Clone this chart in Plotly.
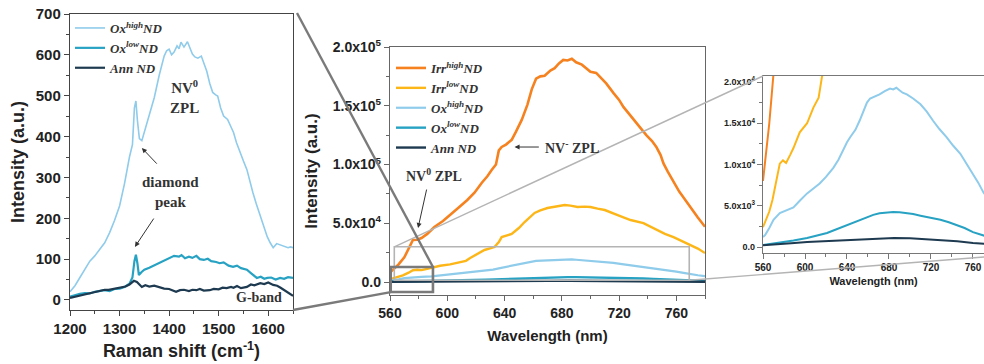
import plotly.graph_objects as go

# ---------------- Raman spectra (left panel) ----------------
raman_ox_high = [1200, 1210, 1220, 1230, 1240, 1250, 1260, 1270, 1280, 1290, 1300, 1310, 1320,
                 1326, 1330, 1333, 1336, 1340, 1345, 1350, 1360, 1370, 1380, 1390,
                 1395, 1400, 1405, 1410, 1416, 1420, 1424, 1430, 1437, 1442, 1447, 1452, 1458, 1465,
                 1470, 1476, 1482, 1488, 1494, 1498, 1504, 1510, 1518, 1524, 1530, 1536, 1543, 1550,
                 1557, 1563, 1569, 1576, 1584, 1590, 1598, 1604, 1610, 1617, 1624, 1632, 1640, 1645, 1650]
int_ox_high = [20, 35, 55, 75, 95, 108, 125, 140, 165, 195, 230, 285, 350,
               380, 470, 487, 440, 395, 390, 410, 450, 495, 550, 597,
               610, 614, 600, 607, 622, 615, 631, 619, 632, 615, 602, 595, 592, 597,
               580, 560, 530, 508, 502, 499, 470, 450, 442, 425, 410, 385, 361, 340,
               319, 290, 263, 235, 204, 180, 155, 140, 128, 138, 135, 133, 128, 130, 128]

raman_ox_low = [1200, 1210, 1220, 1230, 1240, 1250, 1260, 1270, 1280, 1290, 1300, 1310, 1320,
                1326, 1330, 1333, 1336, 1339, 1344, 1350, 1360, 1370, 1380, 1390, 1400, 1410, 1420,
                1425, 1432, 1440, 1447, 1455, 1462, 1470, 1478, 1485, 1495,
                1502, 1510, 1520, 1529, 1537, 1545, 1557, 1565, 1572, 1577,
                1585, 1592, 1598, 1606, 1615, 1624, 1632, 1640, 1650]
int_ox_low = [8, 12, 15, 17, 16, 20, 22, 24, 22, 27, 28, 32, 40,
              55, 95, 111, 90, 61, 68, 74, 79, 85, 90, 96, 103, 108, 106,
              110, 102, 106, 103, 108, 100, 98, 101, 95, 93,
              90, 92, 84, 81, 84, 78, 74, 66, 58, 54,
              57, 52, 54, 55, 50, 54, 52, 56, 54]

raman_ann = [1200, 1210, 1220, 1230, 1243, 1250, 1260, 1270, 1278, 1290, 1300, 1312, 1320, 1329, 1335,
             1340, 1345, 1352, 1360, 1370, 1380, 1390, 1400, 1407, 1414, 1422, 1430, 1440, 1447, 1455,
             1462, 1470, 1482, 1490, 1500, 1508, 1516, 1525, 1530, 1537, 1545, 1557, 1565, 1572, 1584,
             1592, 1600, 1610, 1618, 1625, 1631, 1638, 1645, 1650]
int_ann = [5, 8, 10, 14, 17, 20, 22, 25, 25, 28, 30, 33, 38, 47, 44,
           38, 32, 36, 33, 35, 31, 28, 27, 24, 20, 24, 25, 22, 25, 24,
           27, 23, 24, 27, 26, 30, 29, 32, 30, 34, 29, 32, 38, 36, 41,
           39, 43, 37, 35, 30, 25, 20, 12, 10]

raman_xticks = [1200, 1300, 1400, 1500, 1600]
raman_yticks = [0, 100, 200, 300, 400, 500, 600, 700]

# ---------------- Photoluminescence spectra (middle panel + inset) ----------------
wl_irr_high = [560, 562, 566, 570, 573, 576, 579, 582, 586, 591, 597, 603, 608, 614, 619,
               624, 628, 631, 634, 636, 638, 641, 645, 648, 652, 656, 659, 662, 665, 668,
               672, 675, 678, 681, 684, 687, 690, 694, 697, 700, 704, 707, 711, 716, 720,
               723, 727, 732, 736, 739, 743, 746, 749, 751, 754, 758, 762, 765, 770, 775, 780]
pl_irr_high = [8000, 10200, 15000, 21000, 28000, 35800, 36000, 37500, 41000, 46900,
               52000, 58700, 63500, 69800, 76000, 84300, 90000, 95400, 100000, 112000,
               115000, 117000, 121000, 128000, 138000, 151000, 164000, 173000, 175000, 175500,
               180000, 182000, 186000, 189000, 188500, 190000, 187000, 185000, 182000, 179000,
               178000, 174000, 169000, 161000, 155000, 149000, 143000, 135000, 129000, 125000,
               120000, 115000, 108000, 101000, 94000, 85000, 77000, 72000, 63000, 55000, 47000]

wl_irr_low = [560, 562, 566, 569, 573, 576, 579, 582, 586, 589, 595, 602, 608, 613, 616,
              620, 626, 633, 636, 638, 645, 650, 654, 661, 665, 670, 676, 682, 686, 691,
              696, 700, 705, 710, 719, 728, 737, 746, 752, 758, 764, 770, 775, 780]
pl_irr_low = [2400, 3000, 4300, 5700, 8000, 10100, 10500, 10200, 11200, 12000,
              13900, 15000, 16900, 18100, 20500, 23000, 27300, 29800, 34000, 38300,
              40900, 46000, 51100, 58800, 61000, 63000, 64500, 65600, 65000, 63900,
              64200, 63900, 62500, 61300, 57000, 52800, 50200, 44300, 41000, 38300,
              35000, 31500, 28500, 24700]

wl_ox_high = [560, 562, 566, 570, 576, 582, 589, 595, 602, 608, 614, 620, 627, 632, 636,
              640, 643, 648, 652, 656, 659, 662, 666, 671, 676, 681, 684, 687, 690, 693,
              697, 703, 710, 716, 722, 728, 735, 741, 748, 754, 760, 765, 770, 775, 780]
pl_ox_high = [1200, 1450, 2300, 3300, 4100, 4400, 4800, 5600, 6500, 7100,
              7700, 8500, 9600, 10600, 11700, 12700, 13300, 14200, 15300, 16500,
              17500, 18000, 18200, 18500, 18900, 19200, 19100, 19300, 19000, 18700,
              18500, 18000, 17300, 16400, 15300, 14300, 13300, 12300, 11300, 10100,
              8900, 7800, 6600, 5800, 5000]

wl_ox_low = [560, 568, 576, 589, 602, 612, 621, 627, 633, 640, 646, 653, 659, 665, 671,
             678, 684, 690, 697, 703, 710, 720, 729, 737, 744, 752, 760, 765, 770, 775, 780]
pl_ox_low = [250, 380, 500, 800, 1100, 1400, 1700, 2000, 2300, 2600, 2900, 3300, 3600, 3900, 4100,
             4200, 4250, 4200, 4100, 4000, 3800, 3550, 3300, 3000, 2700, 2300, 1800, 1600, 1450, 1200, 1000]

wl_ann = [560, 575, 590, 602, 620, 640, 655, 671, 685, 700, 715, 730, 745, 760, 770, 780]
pl_ann = [200, 380, 500, 600, 720, 840, 950, 1050, 1100, 1050, 950, 840, 700, 480, 360, 300]

wl_ticks = [560, 600, 640, 680, 720, 760]
pl_tickvals = [0, 50000, 100000, 150000, 200000]
pl_ticktext = ["0.0", "5.0x10<sup>4</sup>", "1.0x10<sup>5</sup>", "1.5x10<sup>5</sup>", "2.0x10<sup>5</sup>"]
inset_tickvals = [0, 5000, 10000, 15000, 20000]
inset_ticktext = ["0.0", "5.0x10<sup>3</sup>", "1.0x10<sup>4</sup>", "1.5x10<sup>4</sup>", "2.0x10<sup>4</sup>"]

# ---------------- styling ----------------
W, H = 984, 364
C_OX_HIGH = "#8fcbea"
C_OX_LOW = "#27a2c3"
C_ANN = "#1e3a50"
C_IRR_HIGH = "#f5821f"
C_IRR_LOW = "#fdb618"

# panel geometry (paper fractions) and axis ranges
L_XDOM, L_YDOM = [70 / W, 293 / W], [54 / H, 350 / H]
M_XDOM, M_YDOM = [390 / W, 705 / W], [69 / H, 317 / H]
I_XDOM, I_YDOM = [763 / W, 1.0], [111 / H, 288 / H]
L_XR, L_YR = [1200, 1650], [-24.5, 700]
M_XR, M_YR = [560, 780], [-11000, 200000]
I_XR, I_YR = [560, 770.5], [-727, 20727]

SANS = "Liberation Sans"
SERIF = "Liberation Serif"


def to_paper(xdom, xr, ydom, yr, x, y):
    fx = xdom[0] + (x - xr[0]) / (xr[1] - xr[0]) * (xdom[1] - xdom[0])
    fy = ydom[0] + (y - yr[0]) / (yr[1] - yr[0]) * (ydom[1] - ydom[0])
    return fx, fy


fig = go.Figure()

# left panel traces
raman_series = [
    ("<i>Ox<sup>high</sup>ND</i>", raman_ox_high, int_ox_high, C_OX_HIGH, 1.6),
    ("<i>Ox<sup>low</sup>ND</i>", raman_ox_low, int_ox_low, C_OX_LOW, 2.2),
    ("<i>Ann ND</i>", raman_ann, int_ann, C_ANN, 2.2),
]
for name, x, y, c, w in raman_series:
    fig.add_trace(go.Scatter(x=x, y=y, mode="lines", name=name, line=dict(color=c, width=w),
                             xaxis="x", yaxis="y", legend="legend"))

pl_series = [
    ("<i>Irr<sup>high</sup>ND</i>", wl_irr_high, pl_irr_high, C_IRR_HIGH, 2.6),
    ("<i>Irr<sup>low</sup>ND</i>", wl_irr_low, pl_irr_low, C_IRR_LOW, 2.4),
    ("<i>Ox<sup>high</sup>ND</i>", wl_ox_high, pl_ox_high, C_OX_HIGH, 2.2),
    ("<i>Ox<sup>low</sup>ND</i>", wl_ox_low, pl_ox_low, C_OX_LOW, 2.4),
    ("<i>Ann ND</i>", wl_ann, pl_ann, C_ANN, 2.4),
]
for name, x, y, c, w in pl_series:
    fig.add_trace(go.Scatter(x=x, y=y, mode="lines", name=name, line=dict(color=c, width=w),
                             xaxis="x2", yaxis="y2", legend="legend2"))
for name, x, y, c, w in pl_series:
    fig.add_trace(go.Scatter(x=x, y=y, mode="lines", name=name, line=dict(color=c, width=2),
                             xaxis="x3", yaxis="y3", showlegend=False))


def axis(dom, rng, anchor, size, line_color, minor_dtick, **kw):
    d = dict(domain=dom, range=rng, anchor=anchor, automargin=False, showline=True, mirror=True,
             linecolor=line_color, linewidth=1.4, ticks="outside", ticklen=5, tickwidth=1.2,
             tickcolor=line_color, showgrid=False, zeroline=False,
             tickfont=dict(family=SANS, size=size, color="#222", weight="bold"),
             minor=dict(ticks="outside", ticklen=3, tickwidth=1, tickcolor=line_color, dtick=minor_dtick))
    d.update(kw)
    return d


fig.update_layout(
    width=W, height=H, margin=dict(l=0, r=0, t=0, b=0, autoexpand=False),
    paper_bgcolor="white", plot_bgcolor="white",
    xaxis=axis(L_XDOM, L_XR, "y", 15, "#444", 50, tickvals=raman_xticks,
               title=dict(text="Raman shift (cm<sup>-1</sup>)", standoff=8,
                          font=dict(family=SANS, size=18, color="#222", weight="bold"))),
    yaxis=axis(L_YDOM, L_YR, "x", 15, "#444", 50, tickvals=raman_yticks,
               title=dict(text="Intensity (a.u.)", standoff=6,
                          font=dict(family=SANS, size=18, color="#222", weight="bold"))),
    xaxis2=axis(M_XDOM, M_XR, "y2", 14, "#666", 20, tickvals=wl_ticks,
                title=dict(text="Wavelength (nm)", standoff=10,
                           font=dict(family=SANS, size=15, color="#222", weight="bold"))),
    yaxis2=axis(M_YDOM, M_YR, "x2", 14, "#666", 25000, tickvals=pl_tickvals, ticktext=pl_ticktext,
                title=dict(text="Intensity (a.u.)", standoff=10,
                           font=dict(family=SANS, size=17, color="#222", weight="bold"))),
    xaxis3=axis(I_XDOM, I_XR, "y3", 10, "#777", 20, tickvals=wl_ticks,
                title=dict(text="Wavelength (nm)", standoff=5,
                           font=dict(family=SANS, size=11, color="#222", weight="bold"))),
    yaxis3=axis(I_YDOM, I_YR, "x3", 9, "#777", 2500, tickvals=inset_tickvals, ticktext=inset_ticktext),
    legend=dict(x=70 / W, y=1 - 13 / H, xanchor="left", yanchor="top", bgcolor="rgba(0,0,0,0)",
                tracegroupgap=0, itemwidth=30,
                font=dict(family=SERIF, size=13, color="#333", weight="bold")),
    legend2=dict(x=391 / W, y=1 - 53 / H, xanchor="left", yanchor="top", bgcolor="rgba(0,0,0,0)",
                 tracegroupgap=0, itemwidth=30,
                 font=dict(family=SERIF, size=13, color="#333", weight="bold")),
    showlegend=True,
)

# zoom boxes in the PL panel
big_box = dict(x0=563, x1=769, y0=1500, y1=30000)
small_box = dict(x0=560.5, x1=590, y0=-8500, y1=12800)
fig.add_shape(type="rect", xref="x2", yref="y2", layer="above",
              line=dict(color="#b4b4b4", width=1.6), **big_box)
fig.add_shape(type="rect", xref="x2", yref="y2", layer="above",
              line=dict(color="#7a7a7a", width=2.6), **small_box)

# connectors: PL box -> inset
bx0, by1 = to_paper(M_XDOM, M_XR, M_YDOM, M_YR, big_box["x0"], big_box["y1"])
bx1, by0 = to_paper(M_XDOM, M_XR, M_YDOM, M_YR, big_box["x1"], big_box["y0"])
fig.add_shape(type="line", xref="paper", yref="paper", x0=bx0, y0=by1, x1=I_XDOM[0], y1=I_YDOM[1],
              line=dict(color="#b4b4b4", width=1.4))
fig.add_shape(type="line", xref="paper", yref="paper", x0=bx1, y0=by0, x1=I_XDOM[1], y1=I_YDOM[0] - 4 / H,
              line=dict(color="#b4b4b4", width=1.4))

# connectors: Raman panel -> small PL box
sx0, sy0 = to_paper(M_XDOM, M_XR, M_YDOM, M_YR, small_box["x0"], small_box["y0"])
sx1, sy1 = to_paper(M_XDOM, M_XR, M_YDOM, M_YR, small_box["x1"], small_box["y1"])
fig.add_shape(type="line", xref="paper", yref="paper", x0=L_XDOM[1] + 4 / W, y0=L_YDOM[1] + 1 / H,
              x1=sx1, y1=sy1, line=dict(color="#7a7a7a", width=2.4))
fig.add_shape(type="line", xref="paper", yref="paper", x0=L_XDOM[1], y0=L_YDOM[0],
              x1=sx0, y1=sy0, line=dict(color="#7a7a7a", width=2.4))

# annotations
note_font = dict(family=SERIF, size=15, color="#333", weight="bold")
arrow = dict(showarrow=True, arrowhead=2, arrowsize=1, arrowwidth=1, arrowcolor="#333")
fig.add_annotation(x=1432, y=497, xref="x", yref="y", text="NV<sup>0</sup><br>ZPL",
                   showarrow=False, font=note_font, align="center")
fig.add_annotation(x=1402, y=264, xref="x", yref="y", text="diamond<br>peak",
                   showarrow=False, font=note_font, align="center")
fig.add_annotation(x=1581, y=5, xref="x", yref="y", text="G-band",
                   showarrow=False, font=dict(family=SERIF, size=14, color="#333", weight="bold"))
fig.add_annotation(x=1345, y=372, ax=1378, ay=330, xref="x", yref="y", axref="x", ayref="y",
                   text="", **arrow)
fig.add_annotation(x=1331, y=130, ax=1371, ay=203, xref="x", yref="y", axref="x", ayref="y",
                   text="", **arrow)

pl_font = dict(family=SERIF, size=14, color="#333", weight="bold")
fig.add_annotation(x=647, y=114900, ax=665, ay=114900, xref="x2", yref="y2", axref="x2", ayref="y2",
                   text="", **arrow)
fig.add_annotation(x=667, y=114900, xref="x2", yref="y2", xanchor="left", text="NV<sup>-</sup> ZPL",
                   showarrow=False, font=pl_font)
fig.add_annotation(x=579.6, y=46000, ax=585.8, ay=80000, xref="x2", yref="y2", axref="x2", ayref="y2",
                   text="", **arrow)
fig.add_annotation(x=590.7, y=91100, xref="x2", yref="y2", text="NV<sup>0</sup> ZPL",
                   showarrow=False, font=pl_font)

fig.write_html("out.html")
